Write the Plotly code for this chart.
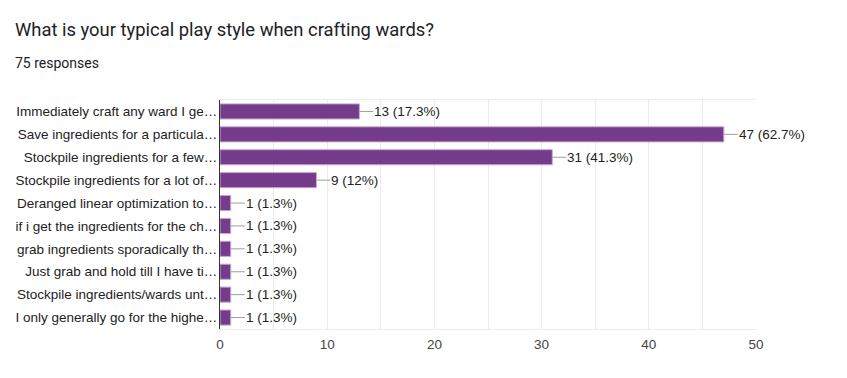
import plotly.graph_objects as go

categories = [
    "Immediately craft any ward I ge…",
    "Save ingredients for a particula…",
    "Stockpile ingredients for a few…",
    "Stockpile ingredients for a lot of…",
    "Deranged linear optimization to…",
    "if i get the ingredients for the ch…",
    "grab ingredients sporadically th…",
    "Just grab and hold till I have ti…",
    "Stockpile ingredients/wards unt…",
    "I only generally go for the highe…",
]
counts = [13, 47, 31, 9, 1, 1, 1, 1, 1, 1]
percent_labels = ["17.3%", "62.7%", "41.3%", "12%", "1.3%", "1.3%", "1.3%", "1.3%", "1.3%", "1.3%"]
title_text = "What is your typical play style when crafting wards?"
subtitle_text = "75 responses"
x_ticks = [0, 10, 20, 30, 40, 50]

# page has an 8px body margin; figure placed accordingly
W, H = 839, 370
ML, MR, MT, MB = 212, 91, 92, 49
pw, ph = W - ML - MR, H - MT - MB

fig = go.Figure()
fig.add_trace(go.Bar(
    x=counts, y=categories, orientation="h",
    marker=dict(color="#763c8c", line=dict(color="#c8a8d6", width=1)),
    hoverinfo="skip",
))

for c, v, p in zip(categories, counts, percent_labels):
    fig.add_annotation(
        x=v, y=c, xref="x", yref="y",
        text=f"{v} ({p})", showarrow=True, arrowhead=0, arrowwidth=1,
        arrowcolor="#9e9e9e", ax=14, ay=0, xanchor="left", yanchor="middle",
        standoff=0, startstandoff=0, borderpad=0,
        font=dict(family="Liberation Sans, Arial, sans-serif", size=13.5, color="#222222"),
    )

fig.add_annotation(
    x=(5 - ML) / pw, y=(H - MB - 22) / ph, xref="paper", yref="paper",
    text=title_text, showarrow=False, xanchor="left", yanchor="middle",
    font=dict(family="Roboto, sans-serif", size=18.4, color="#202124"),
)
fig.add_annotation(
    x=(5 - ML) / pw, y=(H - MB - 55) / ph, xref="paper", yref="paper",
    text=subtitle_text, showarrow=False, xanchor="left", yanchor="middle",
    font=dict(family="Roboto, sans-serif", size=14, color="#202124"),
)

fig.update_layout(
    width=W, height=H,
    margin=dict(l=ML, r=MR, t=MT, b=MB, pad=0, autoexpand=False),
    paper_bgcolor="white", plot_bgcolor="white",
    showlegend=False, bargap=0.34,
    font=dict(family="Liberation Sans, Arial, sans-serif", size=13.5, color="#222222"),
)
fig.update_xaxes(
    range=[0, 50], tickvals=x_ticks, showgrid=True, gridcolor="#ebebeb", gridwidth=1,
    minor=dict(dtick=5, showgrid=True, gridcolor="#ebebeb"),
    showline=True, linecolor="#ebebeb", mirror=True, zeroline=False,
    tickfont=dict(size=13.5, color="#444444"), ticks="", ticklabelstandoff=3,
    fixedrange=True, automargin=False,
)
fig.update_yaxes(
    autorange="reversed", showline=True, linecolor="#333333", linewidth=1,
    showgrid=False, zeroline=False, ticks="", ticklabelstandoff=-1,
    tickfont=dict(size=13.5, color="#222222"), fixedrange=True, automargin=False,
)

fig.write_html("out.html", config={"displayModeBar": False})
